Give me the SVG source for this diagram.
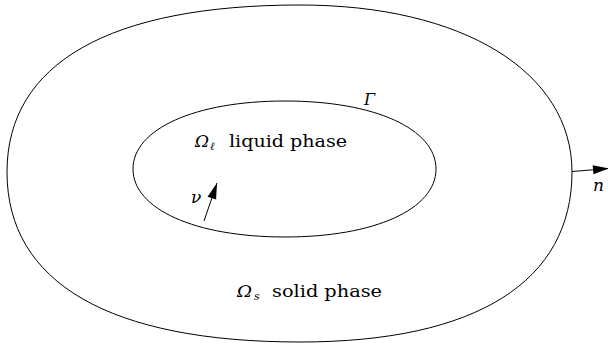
<svg xmlns="http://www.w3.org/2000/svg" width="608" height="344" viewBox="0 0 608 344">
<defs>
<marker id="ah" markerUnits="userSpaceOnUse" markerWidth="20" markerHeight="12" viewBox="-17 -6 18 12" refX="0" refY="0" orient="auto">
<path d="M0,0 L-16,-4.5 L-16,4.5 Z" fill="#000"/>
</marker>
</defs>
<style>
.c{fill:none;stroke:#000;stroke-width:1}
text{font-family:'DejaVu Serif','Liberation Serif',serif;fill:#000}
.i{font-style:italic}
</style>
<rect width="608" height="344" fill="#fff"/>
<g id="solid">
<path class="c" d="M7,172 C7,63 110,5 300,5 C463,5 572,72 572,172 C572,281 477,342 300,342 C110,342 7,283 7,172 Z"/>
<text class="i" x="237" y="297" font-size="16" textLength="15" lengthAdjust="spacingAndGlyphs">Ω</text>
<text class="i" x="254" y="300" font-size="11">s</text>
<text x="272" y="297" font-size="16" textLength="110" lengthAdjust="spacingAndGlyphs">solid phase</text>
</g>
<g id="liquid">
<path class="c" d="M133,169 C133,129 195,101 285,101 C375,101 436,129 436,169 C436,209 375,237 285,237 C195,237 133,209 133,169 Z"/>
<text class="i" x="195" y="147" font-size="16" textLength="14" lengthAdjust="spacingAndGlyphs">Ω</text>
<text class="i" x="210" y="150" font-size="11">ℓ</text>
<text x="229" y="147" font-size="16" textLength="118" lengthAdjust="spacingAndGlyphs">liquid phase</text>
<text class="i" x="364" y="105" font-size="16">Γ</text>
</g>
<g id="connectors">
<line class="c" x1="204" y1="221" x2="217" y2="183" marker-end="url(#ah)"/>
<line class="c" x1="572" y1="171.5" x2="609" y2="168.5" marker-end="url(#ah)"/>
</g>
<g id="labels">
<text class="i" x="191" y="203" font-size="17">ν</text>
<text class="i" x="593" y="191" font-size="17">n</text>
</g>
</svg>
